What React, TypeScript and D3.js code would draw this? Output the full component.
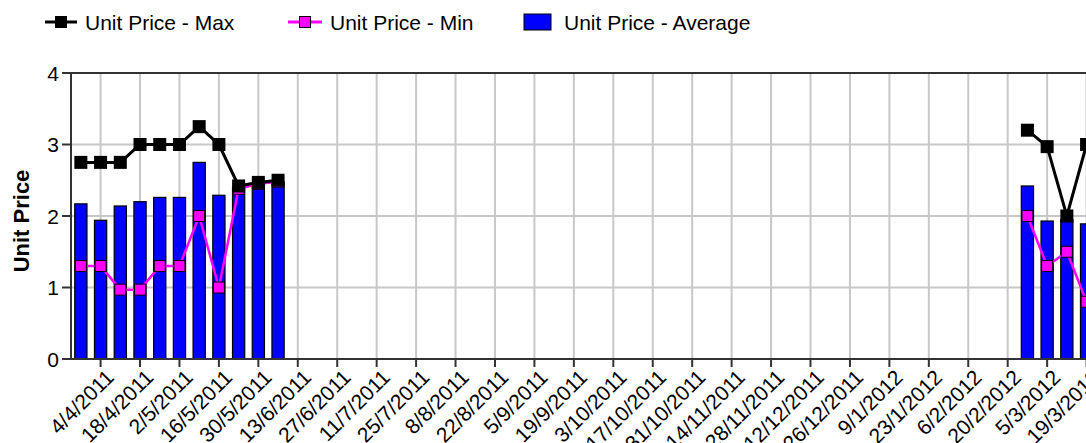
import React from "react";
import * as d3 from "d3";

const categories: string[] = [
  "28/3/2011", "4/4/2011", "11/4/2011", "18/4/2011", "25/4/2011", "2/5/2011", "9/5/2011", "16/5/2011",
  "23/5/2011", "30/5/2011", "6/6/2011", "13/6/2011", "20/6/2011", "27/6/2011", "4/7/2011", "11/7/2011",
  "18/7/2011", "25/7/2011", "1/8/2011", "8/8/2011", "15/8/2011", "22/8/2011", "29/8/2011", "5/9/2011",
  "12/9/2011", "19/9/2011", "26/9/2011", "3/10/2011", "10/10/2011", "17/10/2011", "24/10/2011", "31/10/2011",
  "7/11/2011", "14/11/2011", "21/11/2011", "28/11/2011", "5/12/2011", "12/12/2011", "19/12/2011", "26/12/2011",
  "2/1/2012", "9/1/2012", "16/1/2012", "23/1/2012", "30/1/2012", "6/2/2012", "13/2/2012", "20/2/2012",
  "27/2/2012", "5/3/2012", "12/3/2012", "19/3/2012",
];

const N = null;
// 52 weekly values (11 + 37 empty weeks + 4); null = no data
const avgValues: (number | null)[] = [
  2.17, 1.94, 2.14, 2.2, 2.26, 2.26, 2.75, 2.29, 2.4, 2.45, 2.48,
  N, N, N, N, N, N, N, N, N, N,
  N, N, N, N, N, N, N, N, N, N,
  N, N, N, N, N, N, N, N, N, N,
  N, N, N, N, N, N, N,
  2.42, 1.93, 1.95, 1.89,
];
const maxValues: (number | null)[] = [
  2.75, 2.75, 2.75, 3.0, 3.0, 3.0, 3.25, 3.0, 2.42, 2.47, 2.5,
  N, N, N, N, N, N, N, N, N, N,
  N, N, N, N, N, N, N, N, N, N,
  N, N, N, N, N, N, N, N, N, N,
  N, N, N, N, N, N, N,
  3.2, 2.97, 2.0, 3.0,
];
const minValues: (number | null)[] = [
  1.3, 1.3, 0.97, 0.97, 1.3, 1.3, 2.0, 1.0, 2.38, 2.45, 2.48,
  N, N, N, N, N, N, N, N, N, N,
  N, N, N, N, N, N, N, N, N, N,
  N, N, N, N, N, N, N, N, N, N,
  N, N, N, N, N, N, N,
  2.0, 1.3, 1.5, 0.8,
];
const yTicks: number[] = [0, 1, 2, 3, 4];
const seriesNames: string[] = ["Unit Price - Max", "Unit Price - Min", "Unit Price - Average"];

const W = 1086;
const H = 443;
const left = 71;
const top = 73;
const bottom = 359;
const step = 19.72;
const FONT = "'Liberation Sans', Arial, sans-serif";

export default function App() {
  const x = d3
    .scaleBand<string>()
    .domain(categories)
    .range([left, left + step * categories.length])
    .paddingInner(0.38)
    .paddingOuter(0.19);
  const cx = (c: string) => (x(c) as number) + x.bandwidth() / 2;
  const y = d3.scaleLinear().domain([0, 4]).range([bottom, top]);

  const tickCats = categories.filter((_, i) => i % 2 === 1);

  const lineGen = d3
    .line<number | null>()
    .defined((d) => d !== null)
    .x((_, i) => cx(categories[i]))
    .y((d) => y(d as number));

  const plotRight = W + 20;

  return (
    <div style={{ position: "absolute", left: 0, top: 0, width: W, height: H, overflow: "hidden", background: "#fff" }}>
      <svg width={W} height={H} style={{ display: "block" }} fontFamily={FONT}>
        <rect x={0} y={0} width={W} height={H} fill="#fff" />
        {/* gridlines */}
        {yTicks.filter((t) => t > 0 && t < 4).map((t) => (
          <line key={"gy" + t} x1={left} x2={plotRight} y1={y(t)} y2={y(t)} stroke="#c8c8c8" strokeWidth={2} />
        ))}
        {tickCats.map((c) => (
          <line key={"gx" + c} x1={cx(c)} x2={cx(c)} y1={top} y2={bottom} stroke="#c8c8c8" strokeWidth={2} />
        ))}
        {/* bars */}
        {avgValues.map((v, i) =>
          v === null ? null : (
            <rect
              key={"b" + i}
              x={x(categories[i])}
              y={y(v)}
              width={x.bandwidth()}
              height={bottom - y(v)}
              fill="#0000ff"
              stroke="#000"
              strokeWidth={1.2}
            />
          )
        )}
        {/* min line */}
        <path d={lineGen(minValues) || ""} fill="none" stroke="#ff00ff" strokeWidth={2.5} />
        {minValues.map((v, i) =>
          v === null ? null : (
            <rect key={"mn" + i} x={cx(categories[i]) - 5.5} y={y(v) - 5.5} width={11} height={11} fill="#ff00ff" stroke="#000" strokeWidth={1} />
          )
        )}
        {/* max line */}
        <path d={lineGen(maxValues) || ""} fill="none" stroke="#000" strokeWidth={3} />
        {maxValues.map((v, i) =>
          v === null ? null : (
            <rect key={"mx" + i} x={cx(categories[i]) - 6.5} y={y(v) - 6.5} width={13} height={13} fill="#000" />
          )
        )}
        {/* axes */}
        <line x1={left} x2={plotRight} y1={top} y2={top} stroke="#333" strokeWidth={2} />
        <line x1={left} x2={left} y1={top} y2={bottom} stroke="#333" strokeWidth={2} />
        <line x1={left - 9} x2={plotRight} y1={bottom} y2={bottom} stroke="#333" strokeWidth={2} />
        {yTicks.map((t) => (
          <g key={"yt" + t}>
            <line x1={left - 9} x2={left} y1={y(t)} y2={y(t)} stroke="#333" strokeWidth={2} />
            <text x={left - 12} y={y(t)} dy="0.36em" textAnchor="end" fontSize={21} fill="#000">
              {t}
            </text>
          </g>
        ))}
        {tickCats.map((c) => (
          <g key={"xt" + c}>
            <line x1={cx(c)} x2={cx(c)} y1={bottom} y2={bottom + 8} stroke="#333" strokeWidth={2} />
            <text
              transform={`translate(${cx(c) + 4},${bottom + 9}) rotate(-45)`}
              textAnchor="end"
              dy="0.72em"
              fontSize={21}
              fill="#000"
            >
              {c}
            </text>
          </g>
        ))}
        {/* y title */}
        <text transform={`translate(29,${(top + bottom) / 2 + 5}) rotate(-90)`} textAnchor="middle" fontSize={22} fontWeight="bold" fill="#000">
          Unit Price
        </text>
        {/* legend */}
        <g>
          <line x1={45} x2={77} y1={22} y2={22} stroke="#000" strokeWidth={3} />
          <rect x={55} y={16} width={12} height={12} fill="#000" />
          <text x={85} y={30} fontSize={21} fill="#000">{seriesNames[0]}</text>

          <line x1={288} x2={322} y1={22} y2={22} stroke="#ff00ff" strokeWidth={3} />
          <rect x={299.5} y={16.5} width={11} height={11} fill="#ff00ff" stroke="#000" strokeWidth={1} />
          <text x={330} y={30} fontSize={21} fill="#000">{seriesNames[1]}</text>

          <rect x={524} y={14} width={27} height={16} fill="#0000ff" stroke="#000" strokeWidth={1} />
          <text x={564} y={30} fontSize={21} fill="#000">{seriesNames[2]}</text>
        </g>
      </svg>
    </div>
  );
}
